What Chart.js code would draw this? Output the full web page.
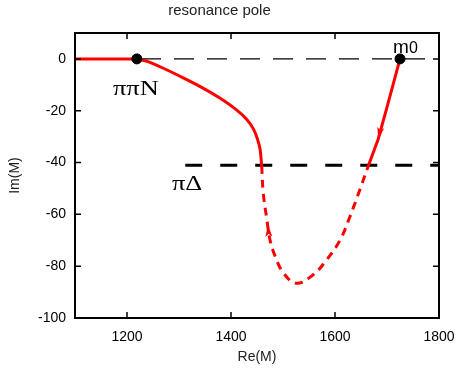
<!DOCTYPE html>
<html>
<head>
<meta charset="utf-8">
<script src="https://cdn.jsdelivr.net/npm/chart.js@4/dist/chart.umd.min.js"></script>
<style>
  body { margin: 0; background: #fff; }
  canvas { display: block; }
</style>
</head>
<body>
<canvas id="chart" width="458" height="368"></canvas>
<script>
// pole trajectory, Re(M) / Im(M)
const realAxisRe = [1100, 1219];
const realAxisIm = [0, 0];

const upperLeftRe = [1219, 1235, 1250, 1270, 1300, 1340, 1380, 1410, 1430, 1443, 1451, 1456, 1459];
const upperLeftIm = [0, -0.7, -1.8, -3.6, -6.5, -10.6, -15.3, -19.6, -23.3, -27, -31, -35, -41.3];

const secondSheetRe = [1459, 1462, 1469, 1475, 1485, 1501, 1526, 1558, 1584, 1610, 1629, 1648, 1664];
const secondSheetIm = [-41.3, -51.7, -62, -69.8, -76.2, -82.7, -86.6, -83.3, -77.5, -69.8, -60.7, -50.4, -41.3];

const upperRightRe = [1664, 1683, 1699, 1713, 1725];
const upperRightIm = [-41.3, -31, -19.4, -9, 0];

// thresholds and bare mass
const piPiNRe = 1219;
const piDeltaIm = -41;
const piDeltaStartRe = 1312;
const m0Re = 1725;

const xTicks = [1200, 1400, 1600, 1800];
const yTicks = [0, -20, -40, -60, -80, -100];

// arrow markers: [fromRe, fromIm, toRe, toIm]
const arrows = [
  [1692, -23, 1683, -31],
  [1474, -72, 1471, -64]
];

const FONT = 'Liberation Sans, Arial, sans-serif';

function zip(xs, ys) {
  return xs.map((x, i) => ({ x: x, y: ys[i] }));
}

function wideText(ctx, text, x, y, sx) {
  ctx.save();
  ctx.translate(x, y);
  ctx.scale(sx, 1);
  ctx.fillText(text, 0, 0);
  ctx.restore();
}

const framePlugin = {
  id: 'frame',
  afterDatasetsDraw(chart) {
    const ctx = chart.ctx;
    const a = chart.chartArea;
    const xs = chart.scales.x, ys = chart.scales.y;
    ctx.save();

    // arrows
    ctx.fillStyle = '#ff0000';
    arrows.forEach(ar => {
      const x0 = xs.getPixelForValue(ar[0]), y0 = ys.getPixelForValue(ar[1]);
      const x1 = xs.getPixelForValue(ar[2]), y1 = ys.getPixelForValue(ar[3]);
      const ang = Math.atan2(y1 - y0, x1 - x0);
      const len = 12, hw = 3.5;
      ctx.save();
      ctx.translate(x1, y1);
      ctx.rotate(ang);
      ctx.beginPath();
      ctx.moveTo(0, 0);
      ctx.lineTo(-len, -hw);
      ctx.lineTo(-len + 3, 0);
      ctx.lineTo(-len, hw);
      ctx.closePath();
      ctx.fill();
      ctx.restore();
    });

    // frame
    ctx.strokeStyle = '#000';
    ctx.lineWidth = 2;
    ctx.strokeRect(a.left, a.top, a.right - a.left, a.bottom - a.top);

    // inward ticks, mirrored
    ctx.lineWidth = 1.5;
    ctx.beginPath();
    xTicks.forEach(v => {
      const px = xs.getPixelForValue(v);
      ctx.moveTo(px, a.bottom); ctx.lineTo(px, a.bottom - 6);
      ctx.moveTo(px, a.top); ctx.lineTo(px, a.top + 6);
    });
    yTicks.forEach(v => {
      const py = ys.getPixelForValue(v);
      ctx.moveTo(a.left, py); ctx.lineTo(a.left + 6, py);
      ctx.moveTo(a.right, py); ctx.lineTo(a.right - 6, py);
    });
    ctx.stroke();

    // labels
    ctx.fillStyle = '#000';
    ctx.textBaseline = 'alphabetic';
    ctx.textAlign = 'left';
    ctx.font = '22px "Liberation Serif", "Times New Roman", serif';
    wideText(ctx, 'ππN', 113, 95, 1.2);
    wideText(ctx, 'πΔ', 172, 190, 1.2);
    ctx.font = '19px ' + FONT;
    ctx.fillText('m', 393, 53);
    ctx.font = '16px ' + FONT;
    ctx.fillText('0', 409, 53);
    ctx.restore();
  }
};

const ctx = document.getElementById('chart').getContext('2d');
new Chart(ctx, {
  type: 'scatter',
  data: {
    datasets: [
      {
        data: [{ x: piPiNRe, y: 0 }, { x: m0Re, y: 0 }],
        showLine: false,
        pointRadius: 5,
        pointBackgroundColor: '#000',
        pointBorderColor: '#000'
      },
      {
        data: zip(realAxisRe, realAxisIm),
        showLine: true, pointRadius: 0,
        borderColor: '#ff0000', borderWidth: 3
      },
      {
        data: zip(upperLeftRe, upperLeftIm),
        showLine: true, pointRadius: 0, tension: 0.3,
        borderColor: '#ff0000', borderWidth: 3
      },
      {
        data: zip(secondSheetRe, secondSheetIm),
        showLine: true, pointRadius: 0, tension: 0.4,
        borderColor: '#ff0000', borderWidth: 3, borderDash: [8, 6]
      },
      {
        data: zip(upperRightRe, upperRightIm),
        showLine: true, pointRadius: 0, tension: 0,
        borderColor: '#ff0000', borderWidth: 3
      },
      {
        data: [{ x: 1100, y: 0 }, { x: 1800, y: 0 }],
        showLine: true, pointRadius: 0,
        borderColor: '#000', borderWidth: 1.2, borderDash: [20, 13]
      },
      {
        data: [{ x: piDeltaStartRe, y: piDeltaIm }, { x: 1800, y: piDeltaIm }],
        showLine: true, pointRadius: 0,
        borderColor: '#000', borderWidth: 3, borderDash: [17, 18]
      }
    ]
  },
  options: {
    responsive: false,
    animation: false,
    layout: { padding: { left: 0, right: 19, top: 0, bottom: 0 } },
    plugins: {
      legend: { display: false },
      tooltip: { enabled: false },
      title: {
        display: true,
        text: 'resonance pole',
        color: '#222',
        font: { family: FONT, size: 15, weight: 'normal' },
        padding: { top: 2, bottom: 13 }
      }
    },
    scales: {
      x: {
        type: 'linear',
        min: 1100, max: 1800,
        afterBuildTicks: s => { s.ticks = xTicks.map(v => ({ value: v })); },
        afterFit: s => { s.height = 50; s.paddingLeft = 0; s.paddingRight = 0; },
        grid: { display: false, drawTicks: false },
        border: { display: false },
        ticks: { padding: 11, color: '#000', font: { family: FONT, size: 14 }, maxRotation: 0, callback: v => String(v) },
        title: { display: true, text: 'Re(M)', color: '#222', font: { family: FONT, size: 14 }, padding: { top: 0, bottom: 2.6 } }
      },
      y: {
        type: 'linear',
        min: -100, max: 10,
        afterBuildTicks: s => { s.ticks = yTicks.map(v => ({ value: v })); },
        afterFit: s => { s.width = 75; s.paddingTop = 0; s.paddingBottom = 0; },
        grid: { display: false, drawTicks: false },
        border: { display: false },
        ticks: { padding: 9, color: '#000', font: { family: FONT, size: 14 }, callback: v => String(v) },
        title: { display: true, text: 'Im(M)', color: '#222', font: { family: FONT, size: 14 }, padding: { top: 6.6, bottom: 0 } }
      }
    }
  },
  plugins: [framePlugin]
});
</script>
</body>
</html>
